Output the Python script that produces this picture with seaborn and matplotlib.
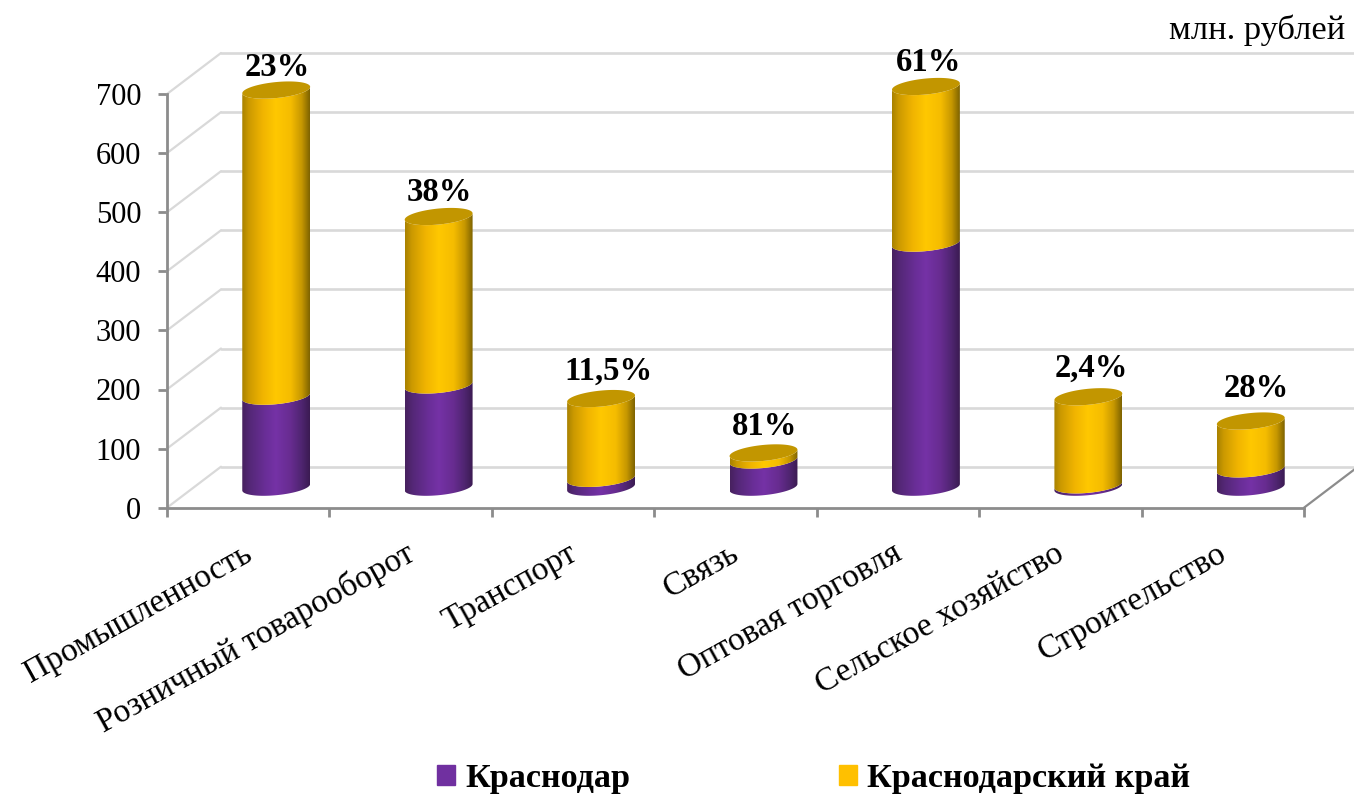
import numpy as np
import matplotlib
matplotlib.use('Agg')
import matplotlib.pyplot as plt
import seaborn as sns
from matplotlib.colors import LinearSegmentedColormap
from matplotlib.patches import Patch, Polygon
from matplotlib.transforms import ScaledTranslation

# Данные
sectors = ['Промышленность', 'Розничный товарооборот', 'Транспорт', 'Связь',
           'Оптовая торговля', 'Сельское хозяйство', 'Строительство']
krai = [672, 458, 150, 58, 678, 153, 112]
krasnodar = [154, 173, 15, 46, 413, 4, 31]
shares = ['23%', '38%', '11,5%', '81%', '61%', '2,4%', '28%']
y_ticks = [0, 100, 200, 300, 400, 500, 600, 700]

# Раскладка подписей над столбцами (смещение в пикселях)
label_lift = [23, 24, 27, 26, 24, 29, 33]
label_shift = [1, 1, 7, 1, 3, 3, 5]

sns.set_theme(style='white')
plt.rcParams['font.family'] = ['Liberation Serif', 'DejaVu Serif']

W, H = 1354, 794
fig = plt.figure(figsize=(W / 100, H / 100), dpi=100)
ax = fig.add_axes([167 / W, 1 - 507.7 / H, (1304 - 167) / W, (507.7 - 94) / H])

# Столбцы строим через seaborn, затем берем их геометрию для цилиндров
sns.barplot(x=sectors, y=krai, color='#ffc000', width=0.418, ax=ax)
n_gold = len(ax.patches)
sns.barplot(x=sectors, y=krasnodar, color='#7030a0', width=0.418, ax=ax)
gold_bars = ax.patches[:n_gold]
purple_bars = ax.patches[n_gold:]

ax.set_xlim(-0.5, 6.5)
ax.set_ylim(0, 700)
px_x = (1304 - 167) / 7
px_y = (507.7 - 94) / 700

# Глубина псевдо-3D
depth_x = 54 / px_x
depth_y = 41 / px_y
cap_b = 8 / px_y
cap_tilt = 3.2 / px_y

# Стенка и сетка
for v in y_ticks:
    ax.plot([-0.5, -0.5 + depth_x], [v, v + depth_y], color='#d9d9d9', lw=1.6, clip_on=False, zorder=1)
    ax.plot([-0.5 + depth_x, 6.5 + depth_x], [v + depth_y, v + depth_y], color='#d9d9d9', lw=1.9, clip_on=False, zorder=1)
ax.plot([6.5, 6.5 + depth_x], [0, depth_y], color='#8c8c8c', lw=1.6, clip_on=False, zorder=2)


def lower_edge(xc, half_w, level):
    t = np.linspace(np.pi, 2 * np.pi, 40)
    return np.column_stack([xc + half_w * np.cos(t), level + cap_b * np.sin(t) + cap_tilt * np.cos(t)])


def draw_body(bar, low, high, cmap):
    half_w = bar.get_width() / 2
    xc = bar.get_x() + half_w + depth_x / 2 + 1 / px_x
    base = depth_y / 2
    verts = np.vstack([lower_edge(xc, half_w, base + low), lower_edge(xc, half_w, base + high)[::-1]])
    shape = Polygon(verts, closed=True, facecolor='none', edgecolor='none', zorder=3, clip_on=False)
    ax.add_patch(shape)
    im = ax.imshow(np.linspace(0, 1, 128)[None, :], cmap=cmap, aspect='auto', zorder=3,
                   extent=(xc - half_w, xc + half_w, base + low - 2 * cap_b, base + high + 2 * cap_b))
    im.set_clip_path(shape)
    # иначе картинка обрезается по верхней границе осей
    im.set_clip_box(fig.bbox)
    return xc, base


gold_cmap = LinearSegmentedColormap.from_list('gold', [(0, '#a98200'), (0.1, '#cc9a00'), (0.3, '#f0b400'), (0.5, '#ffc800'),
                                                       (0.72, '#f5bc00'), (0.88, '#c79800'), (1, '#7f6400')])
purple_cmap = LinearSegmentedColormap.from_list('purple', [(0, '#47215f'), (0.12, '#552878'), (0.35, '#6a2e98'), (0.5, '#7532a6'),
                                                           (0.72, '#672c90'), (0.88, '#4f2570'), (1, '#3b1b52')])

for i, (g_bar, p_bar) in enumerate(zip(gold_bars, purple_bars)):
    g_bar.set_visible(False)
    p_bar.set_visible(False)
    top = g_bar.get_height()
    mid = p_bar.get_height()
    draw_body(p_bar, 0, mid, purple_cmap)
    xc, base = draw_body(g_bar, mid, top, gold_cmap)
    # Верхняя крышка
    half_w = g_bar.get_width() / 2
    t = np.linspace(0, 2 * np.pi, 80)
    cap = np.column_stack([xc + half_w * np.cos(t), base + top + cap_b * np.sin(t) + cap_tilt * np.cos(t)])
    ax.add_patch(Polygon(cap, closed=True, facecolor='#c29600', edgecolor='none', zorder=4, clip_on=False))
    ax.annotate(shares[i], (xc, base + top), xytext=(label_shift[i] * 0.72, label_lift[i] * 0.72), textcoords='offset points',
                ha='center', va='center', fontsize=23.5, fontweight='bold', color='black', zorder=5, annotation_clip=False)

# Оси
sns.despine(ax=ax)
for side in ['left', 'bottom']:
    ax.spines[side].set_color('#8c8c8c')
    ax.spines[side].set_linewidth(2)
ax.patch.set_alpha(0)
ax.set_yticks(y_ticks)
ax.tick_params(axis='y', length=6.5, width=2, color='#8c8c8c', pad=12, labelsize=22, labelcolor='black', left=True)
ax.set_xticks(np.arange(-0.5, 7, 1))
ax.set_xticklabels([])
ax.tick_params(axis='x', which='major', length=6.5, width=2, color='#8c8c8c', bottom=True)
ax.set_xticks(np.arange(7), sectors, minor=True)
ax.tick_params(axis='x', which='minor', length=0, pad=22, labelsize=24, labelcolor='black')
label_offset = ScaledTranslation(-6 / 100, 0, fig.dpi_scale_trans)
for lab in ax.get_xticklabels(minor=True):
    lab.set_rotation(29)
    lab.set_ha('right')
    lab.set_rotation_mode('anchor')
    lab.set_transform(lab.get_transform() + label_offset)

fig.text(1345 / W, 1 - 30 / H, 'млн. рублей', ha='right', va='center', fontsize=24.8, color='black')

handles = [Patch(color='#7030a0', label='Краснодар'), Patch(color='#ffc000', label='Краснодарский край')]
fig.legend(handles=handles, ncol=2, loc='center left', bbox_to_anchor=(406 / W, 1 - 779 / H), frameon=False,
           prop={'size': 24.6, 'weight': 'bold'}, labelcolor='black', handlelength=0.53, handleheight=0.53,
           handletextpad=0.3, columnspacing=6.1)

fig.savefig('out.png', dpi=100)
